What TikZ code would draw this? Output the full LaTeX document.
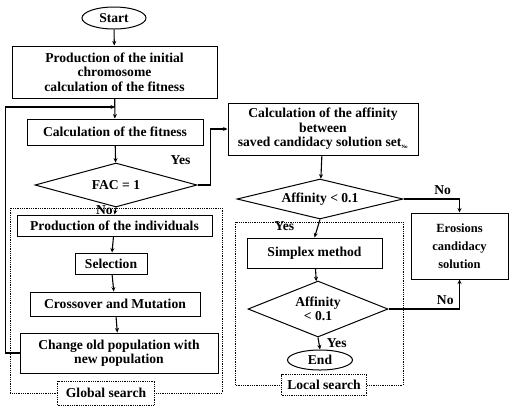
\documentclass[tikz,border=0pt]{standalone}
\usepackage{fontspec}
\setmainfont{Liberation Serif}
\usetikzlibrary{arrows.meta, shapes.geometric}

\begin{document}
\begin{tikzpicture}[x=1pt, y=-1pt,
		font=\fontsize{13.6}{14.5}\selectfont\bfseries,
		box/.style={draw, line width=1pt, align=center, inner sep=1pt},
		decision/.style={draw, diamond, line width=1pt, align=center, inner sep=0pt},
		terminal/.style={draw, ellipse, line width=1pt, inner sep=0pt},
		flow/.style={line width=1.1pt, arrows={-Stealth[length=4.5pt, width=4pt]}},
		frame/.style={densely dotted, line width=0.8pt},
		tag/.style={draw, densely dotted, line width=0.8pt, fill=white, inner sep=0pt}]
		\useasboundingbox (0,0) rectangle (510,408);

		% global search part
		\draw[frame] (10,208) rectangle (222,393);
		\node[tag, minimum width=97pt, minimum height=24pt] (gtag) at (106,393) {Global search};

		\node[terminal, minimum width=64pt, minimum height=22pt] (start) at (114,18) {Start};
		\node[box, minimum width=205pt, minimum height=52pt] (init) at (114.5,72) {Production of the initial\\chromosome\\calculation of the fitness};
		\node[box, minimum width=176pt, minimum height=26pt] (fit) at (115,132) {Calculation of the fitness};
		\node[decision, aspect=3.7, minimum width=162pt, minimum height=44pt] (fac) at (116,185) {FAC = 1};
		\node[box, minimum width=195pt, minimum height=21pt] (ind) at (114.5,225.5) {Production of the individuals};
		\node[box, minimum width=72pt, minimum height=21pt] (sel) at (111,263.5) {Selection};
		\node[box, minimum width=170pt, minimum height=24pt] (cross) at (115,304) {Crossover and Mutation};
		\node[box, minimum width=198pt, minimum height=40pt] (chg) at (119,353) {Change old population with\\new population};
		\coordinate (loopin) at (115,107);

		% local search part
		\draw[frame] (235,222) rectangle (403,385);
		\node[tag, minimum width=85pt, minimum height=21pt] (ltag) at (324,385) {Local search};

		\node[box, minimum width=190pt, minimum height=52pt] (aff) at (323,129) {Calculation of the affinity\\between\\saved candidacy solution set{\fontsize{6}{6}\selectfont$_{\mathbf{No}}$}};
		\node[decision, aspect=4.1, minimum width=166pt, minimum height=40pt] (dia1) at (320,199) {Affinity < 0.1};
		\node[box, minimum width=135pt, minimum height=30pt] (simp) at (314.5,253) {Simplex method};
		\node[decision, aspect=2.5, minimum width=140pt, minimum height=56pt] (dia2) at (318,309) {Affinity\\< 0.1};
		\node[terminal, minimum width=65pt, minimum height=20pt] (end) at (320,360) {End};
		\node[box, minimum width=97pt, minimum height=66pt, font=\fontsize{12.5}{18}\selectfont\bfseries] (ero) at (459.5,246) {Erosions\\candidacy\\solution};

		% connectors
		\draw[flow] (start) -- (init);
		\draw[flow] (init) -- (fit);
		\draw[flow] (fit) -- (fac);
		\draw[flow] (fac.south) -- (ind.north) node[midway, left, inner sep=2pt, yshift=1pt] {No};
		\draw[flow] (ind) -- (sel);
		\draw[flow] (sel) -- (cross);
		\draw[flow] (cross) -- (chg);
		\draw[flow] (chg.west) -- ++(-14,0) |- (loopin);
		\draw[flow] (fac.east) -- ++(13,0) node[pos=0, xshift=-17pt, yshift=25pt] {Yes} |- (aff.west);
		\draw[flow] (aff) -- (dia1);
		\draw[flow] (dia1.east) -| (ero.north) node[pos=0.35, above] {No};
		\draw[flow] (dia1.south) -- (simp.north) node[pos=0.35, left, xshift=-20pt] {Yes};
		\draw[flow] (simp) -- (dia2);
		\draw[flow] (dia2.south) -- (end.north) node[midway, right, xshift=4pt] {Yes};
		\draw[flow] (dia2.east) -| (ero.south) node[pos=0.4, above] {No};

	\end{tikzpicture}
\end{document}
